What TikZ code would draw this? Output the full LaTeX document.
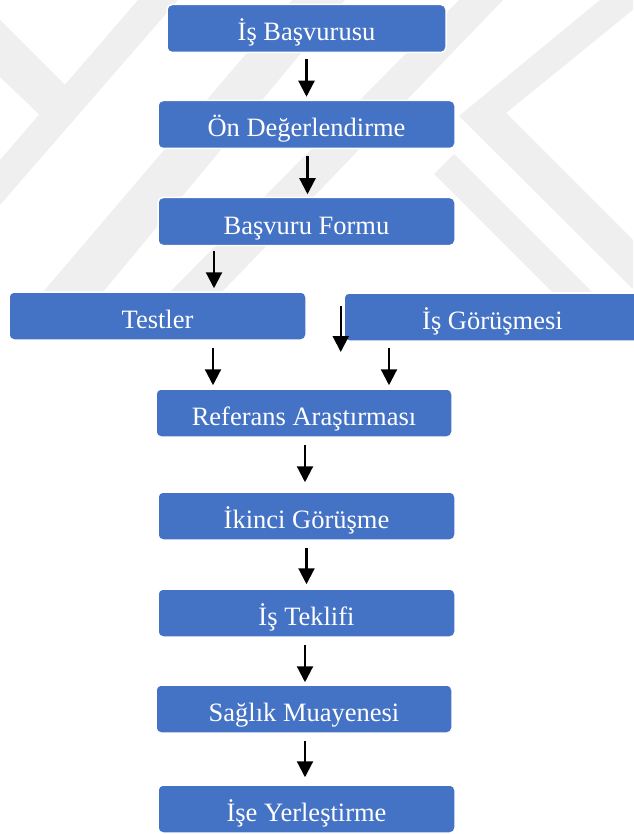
\documentclass[tikz,border=0pt]{standalone}
\usepackage{fontspec}
\setmainfont{Liberation Serif}
\usetikzlibrary{arrows.meta}
\definecolor{boxblue}{HTML}{4472C4}
\definecolor{markgray}{HTML}{EFEFEF}

\begin{document}
\begin{tikzpicture}[x=1pt,y=-1pt,
  stage/.style={rectangle, rounded corners=5pt, fill=boxblue, draw=white,
    line width=1.5pt, inner sep=0pt, text=white,
    font=\fontsize{26.5}{30}\selectfont,
    text height=30pt, text depth=5pt, minimum height=48pt},
  flow/.style={line width=2.2pt, -{Triangle[length=16pt,width=16pt]}}]

% page area
\fill[white] (0,0) rectangle (633,834);
\useasboundingbox (0,0) rectangle (633,834);

% faint watermark bands behind the chart
\begin{scope}
  \clip (0,0) rectangle (633,292);
  \fill[markgray] (138,0) -- (178,0) -- (0,205) -- (0,160) -- cycle;
  \fill[markgray] (0,20) -- (72,92) -- (45,120) -- (0,77) -- cycle;
  \fill[markgray] (292,0) -- (345,0) -- (103,292) -- (43,292) -- cycle;
  \fill[markgray] (459,0) -- (503,0) -- (222,292) -- (170,292) -- cycle;
  \fill[markgray] (600,0) -- (645,0) -- (506,113) -- (650,257) -- (650,306) -- (459,116) -- cycle;
  \fill[markgray] (454,154) -- (434,174) -- (552,292) -- (592,292) -- cycle;
\end{scope}

% stages
\node[stage, minimum width=279pt] (isb)     at (306.5,28.5) {İş Başvurusu};
\node[stage, minimum width=297pt] (on)      at (306.5,124.5) {Ön Değerlendirme};
\node[stage, minimum width=297pt] (bf)      at (306.5,221.5) {Başvuru Formu};
\node[stage, minimum width=297pt] (testler) at (157.5,316) {Testler};
\node[stage, minimum width=297pt] (isg)     at (492.5,317) {İş Görüşmesi};
\node[stage, minimum width=296pt] (ref)     at (304,413) {Referans Araştırması};
\node[stage, minimum width=297pt] (ikinci)  at (306.5,516) {İkinci Görüşme};
\node[stage, minimum width=297pt] (teklif)  at (306.5,613) {İş Teklifi};
\node[stage, minimum width=296pt] (saglik)  at (304,709) {Sağlık Muayenesi};
\node[stage, minimum width=297pt] (ise)     at (306.5,809) {İşe Yerleştirme};

% connectors
\draw[flow] ([yshift=-6pt]isb.south) -- ([yshift=3pt]on.north);
\draw[flow] ([xshift=1pt,yshift=-6.5pt]on.south) -- ([xshift=1pt,yshift=2.5pt]bf.north);
\draw[flow] ([xshift=-92.5pt,yshift=-4.5pt]bf.south) -- ([xshift=56.5pt,yshift=3pt]testler.north);
\coordinate (sideStart) at ([xshift=-2.5pt,yshift=11pt]isg.west);
\coordinate (sideEnd)   at ([xshift=-2.5pt,yshift=-35pt]isg.west);
\draw[flow] (sideStart) -- (sideEnd);
\draw[flow] ([xshift=55.5pt,yshift=-7pt]testler.south) -- ([xshift=-91pt,yshift=3pt]ref.north);
\draw[flow] ([xshift=-103.5pt,yshift=-6pt]isg.south) -- ([xshift=85pt,yshift=3pt]ref.north);
\draw[flow] ([xshift=1pt,yshift=-7pt]ref.south) -- ([xshift=-1.5pt,yshift=9pt]ikinci.north);
\draw[flow] ([yshift=-7pt]ikinci.south) -- ([yshift=4pt]teklif.north);
\draw[flow] ([xshift=-1.5pt,yshift=-7pt]teklif.south) -- ([xshift=1pt,yshift=2pt]saglik.north);
\draw[flow] ([xshift=1pt,yshift=-7pt]saglik.south) -- ([xshift=-1.5pt,yshift=7pt]ise.north);
\end{tikzpicture}
\end{document}
